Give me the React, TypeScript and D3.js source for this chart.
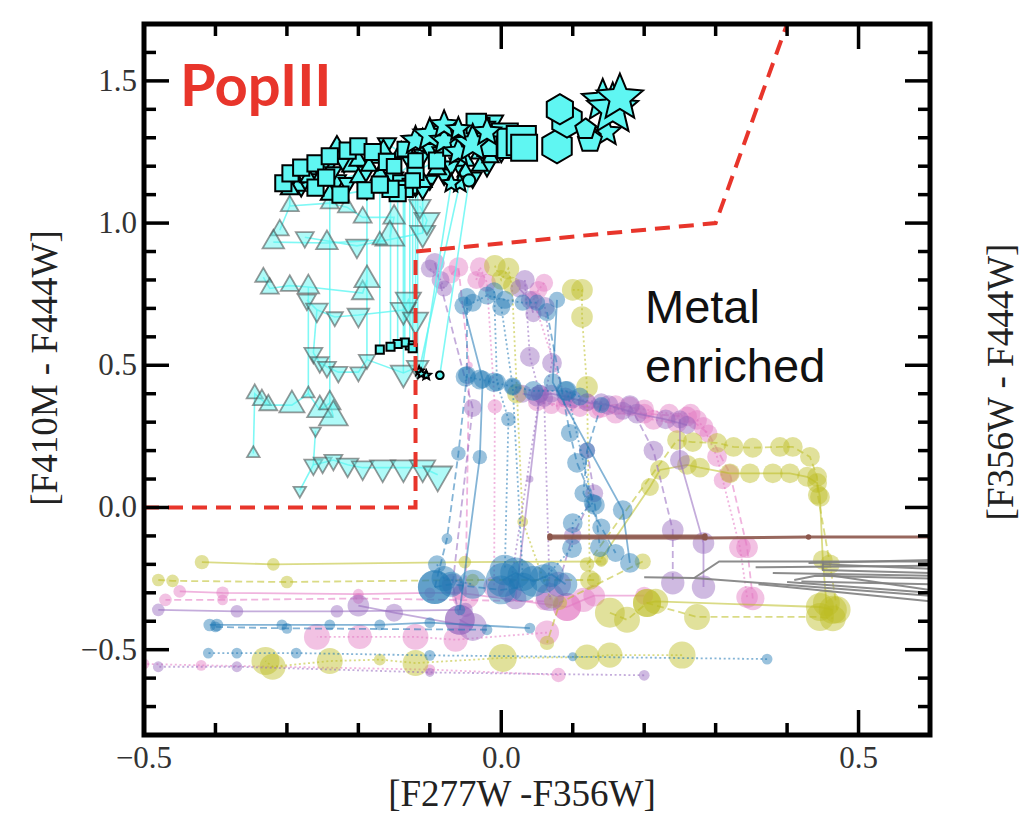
import React from "react";
import * as d3 from "d3";

// point: [F277W-F356W, F410M-F444W, mass index, age index]
type Pt = number[];

const xDomain = [-0.5, 0.6];
const yDomain = [-0.8, 1.7];
const xTickLabels = [-0.5, 0.0, 0.5];
const yTickLabels = [-0.5, 0.0, 0.5, 1.0, 1.5];

// PopIII / metal-enriched selection boundary
const boundaryX = [-0.5, -0.12, -0.12, 0.3, 0.4];
const boundaryY = [0.0, 0.0, 0.9, 1.0, 1.7];

// ---------- PopIII model tracks, grouped by marker ----------
const popSquares: Pt[][] = [
  [[-0.305, 1.14, 5, 1], [-0.295, 1.175, 5, 2], [-0.28, 1.195, 5, 3]],
  [[-0.26, 1.21, 5, 1], [-0.24, 1.235, 5, 2], [-0.215, 1.255, 5, 3]],
  [[-0.2, 1.27, 5, 1], [-0.18, 1.25, 5, 2], [-0.16, 1.215, 5, 3]],
  [[-0.225, 1.1, 5, 1], [-0.19, 1.115, 5, 2], [-0.14, 1.14, 5, 3]],
  [[-0.12, 1.18, 5, 1], [-0.09, 1.22, 5, 2], [-0.07, 1.265, 5, 3]],
  [[-0.05, 1.31, 5, 1], [-0.03, 1.335, 6, 2], [-0.01, 1.295, 7, 3]],
  [[0.005, 1.305, 8, 1], [0.015, 1.28, 9, 2], [0.028, 1.29, 9, 3], [0.032, 1.265, 8, 4]],
  [[-0.26, 1.125, 5, 1], [-0.245, 1.16, 5, 2]],
  [[-0.02, 1.27, 6, 1], [-0.035, 1.35, 6, 2]],
  [[-0.15, 1.2, 4.5, 1], [-0.135, 1.26, 4.5, 2], [-0.12, 1.22, 4.5, 3]],
  [[-0.128, 1.13, 4.5, 1], [-0.128, 0.57, 2.5, 4]],
  [[-0.135, 1.12, 5, 1], [-0.135, 0.58, 2.5, 4]],
  [[-0.145, 1.105, 5, 1], [-0.145, 0.575, 2.5, 4]],
  [[-0.155, 1.12, 5, 1], [-0.155, 0.565, 2.5, 4]],
  [[-0.17, 1.135, 5, 1], [-0.17, 0.555, 2.5, 4]],
  [[-0.124, 1.15, 4.5, 1], [-0.124, 0.56, 2.5, 4]],
];

const popTriUp: Pt[][] = [
  [[-0.29, 1.16, 5, 1], [-0.27, 1.19, 5, 2], [-0.255, 1.15, 5, 3]],
  [[-0.21, 1.2, 5, 1], [-0.18, 1.23, 5, 2], [-0.14, 1.25, 5, 3]],
  [[-0.23, 1.27, 5, 1], [-0.2, 1.22, 5, 2], [-0.17, 1.17, 5, 3]],
  [[-0.07, 1.31, 5, 1], [-0.05, 1.22, 5, 2], [-0.03, 1.245, 5, 3]],
  [[-0.11, 1.145, 5, 2], [-0.09, 1.19, 5, 3]],
  [[-0.3, 1.16, 4.5, 1], [-0.285, 1.13, 4.5, 2], [-0.27, 1.16, 4.5, 3]],
  [[-0.2, 1.16, 4.5, 1], [-0.185, 1.2, 4.5, 2], [-0.165, 1.26, 4.5, 3]],
  [[-0.05, 1.18, 4.5, 1], [-0.03, 1.2, 4.5, 2], [-0.015, 1.23, 4.5, 3]],
  [[-0.11, 1.3, 4.5, 1], [-0.09, 1.32, 4.5, 2]],
  [[-0.31, 0.975, 5, 7], [-0.296, 1.06, 5, 6], [-0.24, 1.07, 5, 6], [-0.216, 1.056, 5, 6], [-0.194, 1.02, 5, 6], [-0.15, 1.02, 6, 6], [-0.156, 0.95, 8, 6]],
  [[-0.319, 0.933, 6, 7], [-0.244, 0.93, 6, 7], [-0.17, 0.94, 4, 7]],
  [[-0.333, 0.81, 4.5, 8], [-0.324, 0.77, 5, 8], [-0.296, 0.78, 5, 8], [-0.27, 0.775, 6, 7], [-0.194, 0.754, 6, 7], [-0.188, 0.8, 7, 7]],
  [[-0.27, 0.775, 6, 7], [-0.27, 0.4, 3.5, 8]],
  [[-0.347, 0.19, 3.5, 10], [-0.345, 0.4, 4.5, 9], [-0.335, 0.378, 5, 9], [-0.326, 0.36, 5, 9], [-0.293, 0.36, 7, 8], [-0.27, 0.4, 3.5, 8], [-0.254, 0.343, 7, 8], [-0.24, 0.367, 6, 8], [-0.235, 0.318, 8, 9]],
  [[-0.24, 1.1, 5, 1], [-0.24, 0.367, 6, 8]],
  [[-0.296, 1.12, 5, 1], [-0.296, 1.06, 5, 6]],
];

const popTriDown: Pt[][] = [
  [[-0.28, 1.13, 5, 1], [-0.23, 1.15, 5, 2], [-0.19, 1.18, 5, 3]],
  [[-0.15, 1.16, 5, 1], [-0.11, 1.24, 5, 2], [-0.08, 1.17, 5, 3]],
  [[-0.06, 1.21, 5, 1], [-0.04, 1.16, 5, 2]],
  [[-0.16, 1.28, 5, 1], [-0.13, 1.23, 5, 2], [-0.1, 1.26, 5, 3]],
  [[-0.02, 1.2, 5, 1], [0.0, 1.25, 5, 2], [-0.01, 1.36, 5, 3]],
  [[-0.245, 1.19, 5, 2], [-0.215, 1.14, 5, 3]],
  [[-0.25, 1.2, 4.5, 1], [-0.235, 1.18, 4.5, 2], [-0.22, 1.21, 4.5, 3]],
  [[-0.1, 1.15, 4.5, 1], [-0.085, 1.25, 4.5, 2], [-0.07, 1.2, 4.5, 3]],
  [[-0.04, 1.3, 4.5, 1], [-0.02, 1.34, 4.5, 2], [0.0, 1.33, 4.5, 3]],
  [[-0.275, 0.95, 5, 6], [-0.202, 0.92, 6, 6], [-0.11, 0.965, 7, 6], [-0.104, 1.01, 7, 6], [-0.114, 1.06, 6, 6]],
  [[-0.272, 0.73, 5, 7], [-0.258, 0.695, 6, 7], [-0.233, 0.67, 4.5, 7], [-0.2, 0.677, 6, 7], [-0.137, 0.694, 7, 7], [-0.13, 0.73, 7, 7], [-0.12, 0.66, 7, 7]],
  [[-0.263, 0.543, 5, 8], [-0.254, 0.51, 5, 8], [-0.244, 0.494, 5, 8], [-0.228, 0.476, 5, 8], [-0.2, 0.476, 4.5, 8], [-0.188, 0.52, 4.5, 8], [-0.137, 0.473, 7, 8], [-0.117, 0.494, 6, 8]],
  [[-0.282, 0.06, 3.5, 10], [-0.263, 0.15, 5, 9], [-0.25, 0.157, 5, 9], [-0.235, 0.167, 5, 9], [-0.215, 0.15, 6, 9], [-0.194, 0.14, 6, 9], [-0.166, 0.14, 7, 9], [-0.137, 0.14, 7, 9], [-0.11, 0.14, 7, 9], [-0.089, 0.115, 8, 10]],
  [[-0.258, 0.695, 6, 7], [-0.263, 0.543, 5, 8]],
  [[-0.26, 0.27, 3, 9], [-0.263, 0.15, 5, 9]],
  [[-0.188, 1.12, 5, 1], [-0.188, 0.52, 4.5, 8]],
  [[-0.137, 1.12, 5, 1], [-0.137, 0.473, 7, 8]],
  [[-0.12, 1.13, 5, 1], [-0.12, 0.66, 7, 7]],
  [[-0.117, 1.14, 5, 1], [-0.117, 0.494, 6, 8]],
  [[-0.11, 1.12, 5, 1], [-0.11, 0.965, 7, 6]],
];

const popStars: Pt[][] = [
  [[-0.12, 1.29, 6, 1], [-0.1, 1.31, 7, 2], [-0.08, 1.29, 6, 3]],
  [[-0.06, 1.25, 6, 1], [-0.04, 1.28, 8, 2], [-0.02, 1.32, 6, 3]],
  [[0.148, 1.32, 6, 4], [0.142, 1.43, 9, 1], [0.156, 1.4, 11, 2], [0.166, 1.44, 10, 3]],
  [[-0.08, 1.345, 6, 1], [-0.06, 1.33, 5, 2]],
  [[-0.058, 1.14, 4, 2], [-0.115, 0.48, 2, 4], [-0.105, 0.465, 2, 4]],
  [[-0.07, 1.14, 4, 2], [-0.112, 0.47, 2, 4]],
];

const popHexagons: Pt[][] = [
  [[0.078, 1.27, 9, 1], [0.092, 1.36, 9, 2], [0.082, 1.4, 8, 3]],
];

const popPentagons: Pt[][] = [
  [[0.124, 1.29, 7, 2], [0.118, 1.33, 6, 3]],
];

const popCircles: Pt[][] = [
  [[-0.045, 1.15, 4, 1], [-0.086, 0.465, 2.5, 3]],
];

// ---------- metal-enriched model tracks, grouped by colour ----------
// model variant: 0 = fiducial (solid), 1 = variant A (dashed), 2 = variant B (dotted)
const blueTracks: Pt[][] = [
  [[-0.048, 0.74, 5], [-0.048, 0.466, 5], [-0.06, 0.19, 4], [-0.076, -0.11, 3], [-0.093, -0.28, 9.4]],
  [[-0.053, 0.71, 5], [-0.026, 0.45, 5], [-0.03, 0.177, 4], [-0.058, -0.36, 3]],
  [[-0.01, 0.76, 5], [-0.006, 0.44, 5], [0.01, 0.31, 4], [0.005, -0.22, 8.5]],
  [[0.0, 0.705, 5], [0.016, 0.425, 4.5], [0.03, -0.24, 8.5]],
  [[0.078, 0.73, 4.5], [0.072, 0.44, 5], [0.17, -0.009, 5.5], [0.18, -0.195, 5.5]],
  [[0.064, 0.687, 5], [0.096, 0.262, 5], [0.106, 0.157, 5.5], [0.131, 0.009, 5.5], [0.138, -0.14, 5.5]],
  [[0.092, 0.41, 5.5], [0.128, 0.016, 5], [0.1, -0.055, 5.5], [0.099, -0.143, 5.5], [0.06, -0.25, 8]],
  [[0.04, -0.424, 3], [-0.1, -0.405, 3], [-0.17, -0.413, 3], [-0.24, -0.413, 3], [-0.307, -0.413, 3], [-0.398, -0.413, 3.5], [-0.408, -0.413, 3.5]],
  [[0.372, -0.533, 3], [0.1, -0.525, 2.5], [-0.1, -0.52, 3], [-0.287, -0.512, 3], [-0.37, -0.512, 3], [-0.41, -0.512, 3]],
  [[-0.02, -0.43, 3], [-0.3, -0.425, 3], [-0.4, -0.42, 3]],
  [[0.002, -0.255, 9.4], [0.02, -0.23, 8.5], [0.045, -0.26, 8.5], [0.07, -0.235, 7], [0.09, -0.27, 6.5]],
  [[-0.093, -0.28, 9.4], [-0.07, -0.27, 7], [0.0, -0.29, 8], [0.03, -0.28, 8]],
  [[-0.05, 0.46, 5.5], [-0.03, 0.45, 5.5], [-0.01, 0.44, 5.5], [0.016, 0.425, 5], [0.045, 0.41, 5.5], [0.09, 0.41, 5.5], [0.11, 0.39, 5]],
  [[-0.04, 0.72, 5], [-0.02, 0.745, 5], [0.005, 0.73, 5], [0.03, 0.72, 4.5], [0.05, 0.72, 4.5]],
  [[0.14, 0.36, 4.5], [0.12, 0.2, 4.5], [0.115, 0.05, 5], [0.14, -0.07, 5], [0.16, -0.16, 5]],
  [[-0.09, -0.2, 5], [-0.08, -0.25, 7], [-0.04, -0.27, 8]],
];
const blueModel = [1, 0, 2, 2, 0, 1, 2, 0, 2, 1, 0, 1, 2, 2, 1, 2];

const pinkTracks: Pt[][] = [
  [[-0.035, 0.8, 5], [-0.03, 0.845, 5.5], [-0.02, 0.79, 5], [-0.009, 0.355, 4], [-0.01, -0.28, 6]],
  [[-0.07, 0.82, 5], [-0.06, 0.845, 5.5], [-0.045, 0.5, 2], [-0.05, -0.31, 7.5]],
  [[0.06, 0.79, 5], [0.052, 0.765, 5], [0.045, 0.73, 5], [0.09, 0.38, 4.5], [0.134, 0.343, 5], [0.18, 0.355, 5.5], [0.213, 0.308, 5.5], [0.246, 0.297, 5.5], [0.274, 0.308, 5.5], [0.283, 0.283, 5.5], [0.302, 0.178, 5.5], [0.31, 0.096, 5], [0.334, -0.14, 6], [0.344, -0.315, 6]],
  [[0.12, 0.37, 5], [0.16, 0.33, 5.5], [0.2, 0.33, 5.5], [0.26, 0.32, 5.5], [0.29, 0.26, 5], [0.32, 0.12, 5], [0.344, -0.14, 6], [0.352, -0.32, 6.5]],
  [[0.092, -0.35, 7.8], [-0.058, -0.3, 4], [-0.1, -0.3, 3], [-0.2, -0.305, 3], [-0.39, -0.3, 3.5], [-0.45, -0.295, 3.5]],
  [[0.06, -0.33, 5], [-0.2, -0.32, 3], [-0.39, -0.325, 3], [-0.47, -0.325, 3.5]],
  [[0.08, -0.589, 4], [-0.1, -0.57, 3], [-0.42, -0.555, 3], [-0.5, -0.55, 3]],
  [[0.064, -0.44, 6.7], [-0.064, -0.465, 6.7], [-0.12, -0.455, 7.2], [-0.198, -0.455, 6.7], [-0.258, -0.455, 7.2]],
  [[0.092, -0.35, 7.8], [0.115, -0.325, 6.7], [0.13, -0.31, 6], [0.2, -0.31, 5]],
  [[0.05, 0.37, 5], [0.09, 0.36, 5.5], [0.14, 0.35, 5.5]],
  [[0.07, 0.36, 5], [0.11, 0.35, 5], [0.16, 0.36, 5.5], [0.2, 0.345, 5.5], [0.235, 0.33, 5.5], [0.265, 0.33, 5.5]],
];
const pinkModel = [2, 1, 2, 1, 0, 1, 2, 2, 0, 1, 2];

const purpleTracks: Pt[][] = [
  [[-0.093, 0.86, 5.5], [-0.04, 0.35, 5], [-0.068, -0.27, 6], [-0.058, -0.395, 8.3]],
  [[0.033, 0.8, 5.5], [0.04, 0.53, 5.5], [0.054, 0.4, 5], [0.012, -0.29, 6.7]],
  [[0.061, 0.705, 5.5], [0.071, 0.508, 5.5], [0.06, 0.385, 5], [0.068, -0.315, 7.8]],
  [[0.054, 0.4, 5], [0.04, 0.1, 2], [0.02, -0.32, 6]],
  [[0.18, 0.36, 5.5], [0.213, 0.2, 5.5], [0.24, -0.08, 6], [0.24, -0.265, 6.5]],
  [[0.25, 0.31, 5], [0.25, 0.167, 5.5], [0.283, -0.125, 6], [0.283, -0.28, 6.5]],
  [[-0.05, -0.36, 4], [-0.23, -0.365, 3.5], [-0.37, -0.365, 3.5], [-0.48, -0.36, 3.5]],
  [[0.2, -0.59, 3], [-0.1, -0.58, 2.5], [-0.37, -0.56, 3], [-0.48, -0.56, 3]],
  [[-0.058, -0.395, 8.3], [-0.04, -0.42, 7.8], [-0.15, -0.37, 5], [-0.2, -0.345, 6]],
  [[0.1, 0.38, 5], [0.14, 0.37, 5], [0.17, 0.34, 5]],
  [[0.03, 0.4, 5], [0.05, 0.39, 5.5], [0.07, 0.4, 5], [0.09, 0.39, 5], [0.12, 0.37, 5], [0.15, 0.36, 5.5], [0.19, 0.33, 5.5], [0.23, 0.31, 5.5], [0.26, 0.29, 5]],
  [[-0.1, 0.84, 5], [-0.085, 0.8, 5], [-0.08, 0.77, 4.5]],
  [[0.025, 0.77, 5], [0.04, 0.73, 5], [0.045, 0.68, 4.5]],
  [[0.12, 0.2, 4.5], [0.13, 0.05, 5], [0.1, -0.1, 5], [0.08, -0.27, 7]],
];
const purpleModel = [1, 2, 2, 0, 1, 0, 0, 2, 0, 2, 0, 2, 1, 1];

const oliveTracks: Pt[][] = [
  [[-0.009, 0.85, 6], [0.0, 0.8, 5.5], [0.01, 0.84, 6], [0.015, 0.78, 5], [0.022, 0.4, 5.5], [0.03, -0.05, 3], [0.07, -0.33, 4]],
  [[0.1, 0.765, 6], [0.113, 0.765, 6], [0.113, 0.67, 6], [0.12, 0.424, 6], [0.124, -0.255, 5.5]],
  [[0.14, -0.18, 4], [0.208, 0.072, 5], [0.222, 0.132, 5.5], [0.26, 0.15, 5.5], [0.278, 0.14, 5.5], [0.32, 0.12, 5.5], [0.348, 0.12, 5.5], [0.38, 0.12, 5.5], [0.404, 0.12, 5.5], [0.428, 0.108, 5.5], [0.442, 0.086, 5.5], [0.446, 0.037, 5.5], [0.45, -0.185, 5.5], [0.455, -0.336, 7.5]],
  [[0.12, -0.2, 4], [0.246, 0.237, 5.5], [0.268, 0.23, 5.5], [0.302, 0.227, 5.5], [0.325, 0.213, 5.5], [0.352, 0.21, 5.5], [0.39, 0.213, 5.5], [0.408, 0.213, 5.5], [0.432, 0.178, 5.5], [0.442, 0.108, 5.5], [0.443, 0.044, 5.5], [0.46, -0.2, 5.5], [0.47, -0.36, 7.5]],
  [[0.14, -0.19, 3], [-0.051, -0.192, 3.5], [-0.319, -0.2, 3.5], [-0.419, -0.192, 4]],
  [[0.13, -0.255, 4], [-0.04, -0.255, 3.5], [-0.3, -0.262, 3.5], [-0.46, -0.258, 3.5], [-0.48, -0.255, 3.5]],
  [[0.253, -0.519, 7.5], [0.152, -0.519, 7], [0.12, -0.526, 7], [0.002, -0.529, 7.8], [-0.12, -0.547, 7.2], [-0.17, -0.535, 3.3], [-0.24, -0.54, 7.2], [-0.32, -0.56, 7.2], [-0.33, -0.54, 7.8]],
  [[0.152, -0.37, 8.3], [0.176, -0.395, 7.2], [0.204, -0.336, 7.8], [0.274, -0.385, 7.2], [0.446, -0.385, 7.8], [0.464, -0.39, 7.2]],
  [[0.204, -0.336, 7.8], [0.216, -0.33, 7], [0.446, -0.35, 7.8], [0.464, -0.36, 7.8]],
  [[0.198, -0.19, 4.5], [0.082, -0.335, 4], [0.064, -0.476, 4]],
];
const oliveModel = [2, 2, 0, 1, 0, 1, 2, 1, 0, 1];

const brownTracks: Pt[][] = [
  [[0.068, -0.1, 1.5], [0.285, -0.1, 1.5]],
  [[0.068, -0.107, 1.5], [0.285, -0.107, 1.5], [0.43, -0.104, 1.5], [0.6, -0.104, 1.5]],
];

const grayTracks: Pt[][] = [
  [[0.2, -0.245], [0.27, -0.248], [0.6, -0.31]],
  [[0.27, -0.248], [0.305, -0.19], [0.6, -0.19]],
  [[0.356, -0.21], [0.6, -0.205]],
  [[0.45, -0.19], [0.45, -0.22], [0.6, -0.23]],
  [[0.45, -0.2], [0.6, -0.215]],
  [[0.41, -0.255], [0.44, -0.24], [0.6, -0.25]],
  [[0.42, -0.26], [0.6, -0.27]],
  [[0.45, -0.235], [0.6, -0.29]],
  [[0.4, -0.262], [0.6, -0.3]],
  [[0.43, -0.195], [0.6, -0.185]],
  [[0.38, -0.23], [0.6, -0.24]],
  [[0.36, -0.27], [0.6, -0.33]],
];

// ---------- chart ----------
const W = 1024;
const H = 826;
const x = d3.scaleLinear().domain(xDomain).range([144, 930]);
const y = d3.scaleLinear().domain(yDomain).range([735, 24]);
const rSize = d3.scaleLinear().domain([0, 10]).range([0, 18]);
const line = d3
  .line<Pt>()
  .x((d) => x(d[0]))
  .y((d) => y(d[1]));

const dashFor = ["", "7,4", "2,2.6"];
const CYAN = "#5ff6f2";

function polygon(n: number, R: number, rot: number) {
  const pts = d3.range(n).map((i) => {
    const a = rot + (i * 2 * Math.PI) / n;
    return [R * Math.cos(a), R * Math.sin(a)];
  });
  return "M" + pts.map((p) => p.join(",")).join("L") + "Z";
}

function star(R: number, ratio: number) {
  const pts = d3.range(10).map((i) => {
    const a = -Math.PI / 2 + (i * Math.PI) / 5;
    const rr = i % 2 === 0 ? R : R * ratio;
    return [rr * Math.cos(a), rr * Math.sin(a)];
  });
  return "M" + pts.map((p) => p.join(",")).join("L") + "Z";
}

function markerPath(shape: string, r: number) {
  switch (shape) {
    case "s": {
      const h = r * 0.9;
      return `M${-h},${-h}H${h}V${h}H${-h}Z`;
    }
    case "^":
      return polygon(3, r * 1.15, -Math.PI / 2);
    case "v":
      return polygon(3, r * 1.15, Math.PI / 2);
    case "*":
      return star(r * 1.35, 0.45);
    case "h":
      return polygon(6, r * 1.05, -Math.PI / 2);
    case "p":
      return polygon(5, r, -Math.PI / 2);
    default:
      return polygon(24, r * 0.85, 0);
  }
}

const popGroups: { shape: string; tracks: Pt[][] }[] = [
  { shape: "v", tracks: popTriDown },
  { shape: "^", tracks: popTriUp },
  { shape: "s", tracks: popSquares },
  { shape: "*", tracks: popStars },
  { shape: "h", tracks: popHexagons },
  { shape: "p", tracks: popPentagons },
  { shape: "o", tracks: popCircles },
];

const metalGroups = [
  { color: "#e377c2", tracks: pinkTracks, model: pinkModel },
  { color: "#bcbd22", tracks: oliveTracks, model: oliveModel },
  { color: "#9467bd", tracks: purpleTracks, model: purpleModel },
  { color: "#1f77b4", tracks: blueTracks, model: blueModel },
];

const isYoung = (p: Pt) => p[3] <= 5;

export default function App() {
  const xMinor = d3.range(-5, 7).map((i) => i / 10);
  const yMinor = d3.range(-8, 18).map((i) => i / 10);
  const isMajor = (v: number) => Math.abs(v * 2 - Math.round(v * 2)) < 1e-6;
  const [x0, x1] = x.range();
  const [y0, y1] = y.range();

  // one marker per distinct model point (tracks share their junction points)
  const seen = new Set<string>();
  const popMarkers: { shape: string; p: Pt }[] = [];
  popGroups.forEach((g) =>
    g.tracks.forEach((t) =>
      t.forEach((p) => {
        const key = `${g.shape}|${p[0]}|${p[1]}`;
        if (seen.has(key)) return;
        seen.add(key);
        popMarkers.push({ shape: g.shape, p });
      })
    )
  );
  const oldMarkers = popMarkers.filter((m) => !isYoung(m.p));
  const youngMarkers = popMarkers.filter((m) => isYoung(m.p));

  const fmt = (v: number) => (v < 0 ? "\u2212" + Math.abs(v).toFixed(1) : v.toFixed(1));
  const tickFont = "'Liberation Serif', 'Times New Roman', serif";

  return (
    <svg width={W} height={H} style={{ position: "absolute", left: 0, top: 0, background: "#fff" }}>
      <defs>
        <clipPath id="plotArea">
          <rect x={x0} y={y1} width={x1 - x0} height={y0 - y1} />
        </clipPath>
      </defs>
      <rect width={W} height={H} fill="#fff" />
      <g clipPath="url(#plotArea)">
        {/* metal-enriched tracks */}
        {metalGroups.map((g, gi) => (
          <g key={"m" + gi}>
            {g.tracks.map((t, ti) => (
              <g key={ti}>
                <path
                  d={line(t) || ""}
                  fill="none"
                  stroke={g.color}
                  strokeOpacity={0.55}
                  strokeWidth={1.8}
                  strokeDasharray={dashFor[g.model[ti]]}
                />
                {t.map((p, pi) => (
                  <circle key={pi} cx={x(p[0])} cy={y(p[1])} r={rSize(p[2])} fill={g.color} fillOpacity={0.45} />
                ))}
              </g>
            ))}
          </g>
        ))}
        {/* gray and brown comparison tracks */}
        {grayTracks.map((t, i) => (
          <path key={"g" + i} d={line(t) || ""} fill="none" stroke="#7f7f7f" strokeWidth={2} strokeOpacity={0.9} />
        ))}
        {brownTracks.map((t, i) => (
          <g key={"b" + i}>
            <path d={line(t) || ""} fill="none" stroke="#8c564b" strokeWidth={3} strokeOpacity={0.9} />
            {t.map((p, pi) => (
              <circle key={pi} cx={x(p[0])} cy={y(p[1])} r={rSize(p[2])} fill="#8c564b" />
            ))}
          </g>
        ))}
        {/* PopIII tracks */}
        {popGroups.map((g) =>
          g.tracks.map((t, ti) => (
            <path
              key={g.shape + ti}
              d={line(t) || ""}
              fill="none"
              stroke={CYAN}
              strokeWidth={1.6}
              strokeOpacity={0.8}
            />
          ))
        )}
        {oldMarkers.map((m, i) => (
          <path
            key={"o" + i}
            d={markerPath(m.shape, rSize(m.p[2]))}
            transform={`translate(${x(m.p[0])},${y(m.p[1])})`}
            fill={CYAN}
            fillOpacity={0.5}
            stroke="#444"
            strokeOpacity={0.55}
            strokeWidth={1.8}
          />
        ))}
        {youngMarkers.map((m, i) => (
          <path
            key={"y" + i}
            d={markerPath(m.shape, rSize(m.p[2]))}
            transform={`translate(${x(m.p[0])},${y(m.p[1])})`}
            fill={CYAN}
            stroke="#000"
            strokeWidth={2}
          />
        ))}
        {/* selection boundary */}
        <path
          d={line(boundaryX.map((v, i) => [v, boundaryY[i]])) || ""}
          fill="none"
          stroke="#e8352b"
          strokeWidth={4}
          strokeDasharray="15,9"
        />
      </g>

      {/* annotations */}
      <text x={180} y={106} fill="#e8352b" fontFamily="Lato, 'Open Sans', sans-serif" fontWeight={700} fontSize={58}>
        PopIII
      </text>
      <text fill="#111" fontFamily="'Liberation Sans', Arial, sans-serif" fontSize={47}>
        <tspan x={645} y={323}>Metal</tspan>
        <tspan x={645} y={382}>enriched</tspan>
      </text>

      {/* frame and ticks */}
      <rect x={x0} y={y1} width={x1 - x0} height={y0 - y1} fill="none" stroke="#000" strokeWidth={5} />
      {xMinor.map((v) => {
        const len = isMajor(v) ? 25 : 12;
        return (
          <g key={"xt" + v}>
            <line x1={x(v)} x2={x(v)} y1={y0} y2={y0 - len} stroke="#000" strokeWidth={3.5} />
            <line x1={x(v)} x2={x(v)} y1={y1} y2={y1 + len} stroke="#000" strokeWidth={3.5} />
          </g>
        );
      })}
      {yMinor.map((v) => {
        const len = isMajor(v) ? 25 : 12;
        return (
          <g key={"yt" + v}>
            <line x1={x0} x2={x0 + len} y1={y(v)} y2={y(v)} stroke="#000" strokeWidth={3.5} />
            <line x1={x1} x2={x1 - len} y1={y(v)} y2={y(v)} stroke="#000" strokeWidth={3.5} />
          </g>
        );
      })}
      {xTickLabels.map((v) => (
        <text key={"xl" + v} x={x(v)} y={768} textAnchor="middle" fontFamily={tickFont} fontSize={31} fill="#333">
          {fmt(v)}
        </text>
      ))}
      {yTickLabels.map((v) => (
        <text key={"yl" + v} x={137} y={y(v) + 10} textAnchor="end" fontFamily={tickFont} fontSize={31} fill="#333">
          {fmt(v)}
        </text>
      ))}

      {/* axis titles */}
      <text x={522} y={806} textAnchor="middle" fontFamily={tickFont} fontSize={37} fill="#222">
        [F277W -F356W]
      </text>
      <text transform="translate(57,368) rotate(-90)" textAnchor="middle" fontFamily={tickFont} fontSize={37} fill="#222">
        [F410M - F444W]
      </text>
      <text transform="translate(1013,382) rotate(-90)" textAnchor="middle" fontFamily={tickFont} fontSize={37} fill="#222">
        [F356W - F444W]
      </text>
    </svg>
  );
}
